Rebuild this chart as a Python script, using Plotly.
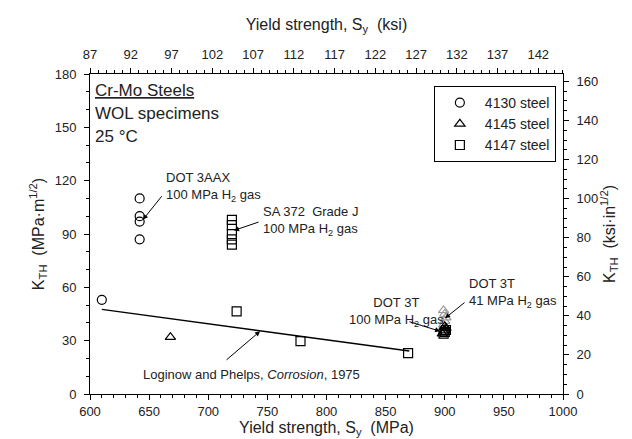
import plotly.graph_objects as go

# ---- data ----
s4130_x = [610, 642, 642, 642, 642]
s4130_y = [53, 110, 100, 97, 87]

s4145_x = [668, 898, 899, 900, 901, 900]
s4145_y = [32, 34, 35, 36, 37, 38]

s4145_41_x = [899, 900, 901, 900, 899]
s4145_41_y = [39, 41, 43, 45, 47]

s4147_x = [720, 720, 720, 720, 720, 724, 778, 869, 899, 900, 901]
s4147_y = [98, 95, 90, 87, 84, 46.5, 29.7, 23, 34, 35, 36]

fit_x = [610, 870]
fit_y = [47.6, 24.2]

MPA_TO_KSI = 0.145038
KMPA_TO_KKSI = 0.9101
x_range = [600, 1000]
y_range = [0, 180]
top_ticks = [87, 92, 97, 102, 107, 112, 117, 122, 127, 132, 137, 142]

FONT = "Liberation Sans, Arial, sans-serif"

fig = go.Figure()

fig.add_trace(go.Scatter(x=fit_x, y=fit_y, mode="lines",
                         line=dict(color="black", width=1.5), showlegend=False))

fig.add_trace(go.Scatter(x=s4130_x, y=s4130_y, mode="markers", name="4130 steel",
                         marker=dict(symbol="circle-open", size=9, color="black",
                                     line=dict(width=1.2))))
fig.add_trace(go.Scatter(x=s4145_41_x, y=s4145_41_y, mode="markers", showlegend=False,
                         marker=dict(symbol="triangle-up-open", size=9, color="#9a9a9a",
                                     line=dict(width=1.2))))
fig.add_trace(go.Scatter(x=s4145_x, y=s4145_y, mode="markers", name="4145 steel",
                         marker=dict(symbol="triangle-up-open", size=9, color="black",
                                     line=dict(width=1.2))))
fig.add_trace(go.Scatter(x=s4147_x, y=s4147_y, mode="markers", name="4147 steel",
                         marker=dict(symbol="square-open", size=9, color="black",
                                     line=dict(width=1.2))))

# invisible traces to activate secondary axes
fig.add_trace(go.Scatter(x=[x_range[0] * MPA_TO_KSI], y=[0], xaxis="x2", yaxis="y",
                         mode="markers", marker=dict(opacity=0), showlegend=False, hoverinfo="skip"))
fig.add_trace(go.Scatter(x=[600], y=[0], xaxis="x", yaxis="y2",
                         mode="markers", marker=dict(opacity=0), showlegend=False, hoverinfo="skip"))

tickfont = dict(family=FONT, size=13, color="#222")
axis_common = dict(showline=True, linecolor="black", linewidth=1, ticks="outside",
                   ticklen=5, tickcolor="black", showgrid=False, zeroline=False,
                   tickfont=tickfont, automargin=False)
title_font = dict(family=FONT, size=16, color="#222")

fig.update_layout(
    width=632, height=439,
    margin=dict(l=82, r=77, t=66, b=53),
    plot_bgcolor="white", paper_bgcolor="white",
    font=dict(family=FONT, color="#222"),
    xaxis=dict(range=x_range, dtick=50, tick0=600,
               minor=dict(dtick=10, ticklen=3, ticks="outside", tickcolor="black"),
               title=dict(text="Yield strength, S<sub>y</sub>  (MPa)",
                          font=title_font, standoff=2),
               **axis_common),
    xaxis2=dict(range=[86.99, x_range[1] * MPA_TO_KSI],
                overlaying="x", side="top", anchor="y",
                tickvals=top_ticks, ticklabelstandoff=4,
                minor=dict(tick0=87, dtick=1, ticklen=3, ticks="outside", tickcolor="black"),
                title=dict(text="Yield strength, S<sub>y</sub>  (ksi)",
                           font=title_font, standoff=12),
                **axis_common),
    yaxis=dict(range=y_range, dtick=30, tick0=0, ticklabelstandoff=5,
               minor=dict(dtick=10, ticklen=3, ticks="outside", tickcolor="black"),
               title=dict(text="K<sub>TH</sub>  (MPa·m<sup>1/2</sup>)",
                          font=title_font, standoff=6),
               **axis_common),
    yaxis2=dict(range=[y_range[0] * KMPA_TO_KKSI, y_range[1] * KMPA_TO_KKSI],
                overlaying="y", side="right", anchor="x",
                dtick=20, tick0=0, ticklabelstandoff=5,
                minor=dict(dtick=5, ticklen=3, ticks="outside", tickcolor="black"),
                title=dict(text="K<sub>TH</sub>  (ksi·in<sup>1/2</sup>)",
                           font=title_font, standoff=5),
                **axis_common),
    legend=dict(x=0.727, y=0.9625, xanchor="left", yanchor="top",
                bordercolor="black", borderwidth=1, bgcolor="white",
                font=dict(family=FONT, size=14, color="#222"),
                itemwidth=40, tracegroupgap=0),
    showlegend=True,
)

ann_font = dict(family=FONT, size=13, color="#222")
big_font = dict(family=FONT, size=17, color="#222")
texts = [
    dict(x=602.5, y=170.5, text="<u>Cr-Mo Steels</u>", xanchor="left", yanchor="middle", font=big_font),
    dict(x=602.5, y=157.6, text="WOL specimens", xanchor="left", yanchor="middle", font=big_font),
    dict(x=602.5, y=144.7, text="25 °C", xanchor="left", yanchor="middle", font=big_font),
    dict(x=662.6, y=127.4, text="DOT 3AAX<br>100 MPa H<sub>2</sub> gas", xanchor="left",
         yanchor="top", align="left", font=ann_font),
    dict(x=744.6, y=108.2, text="SA 372  Grade J<br>100 MPa H<sub>2</sub> gas", xanchor="left",
         yanchor="top", align="left", font=ann_font),
    dict(x=858.8, y=56.6, text="DOT 3T<br>100 MPa H<sub>2</sub> gas", xanchor="center",
         yanchor="top", align="center", font=ann_font),
    dict(x=918.8, y=67.3, text="DOT 3T<br>41 MPa H<sub>2</sub> gas", xanchor="left",
         yanchor="top", align="left", font=ann_font),
    dict(x=643.1, y=11.2, text="Loginow and Phelps, <i>Corrosion</i>, 1975", xanchor="left",
         yanchor="middle", font=ann_font),
]
for t in texts:
    fig.add_annotation(showarrow=False, xref="x", yref="y", **t)

arrows = [
    ((661.7, 112.1), (644.8, 98.1)),
    ((743.8, 97.0), (721.8, 92.0)),
    ((868.9, 40.9), (896.0, 35.3)),
    ((918.0, 52.1), (900.2, 42.6)),
    ((714.2, 18.5), (743.8, 35.3)),
]
for (tx, ty), (hx, hy) in arrows:
    fig.add_annotation(x=hx, y=hy, ax=tx, ay=ty, xref="x", yref="y", axref="x", ayref="y",
                       text="", showarrow=True, arrowhead=2, arrowsize=1, arrowwidth=1,
                       arrowcolor="black")

fig.write_html("out.html")
